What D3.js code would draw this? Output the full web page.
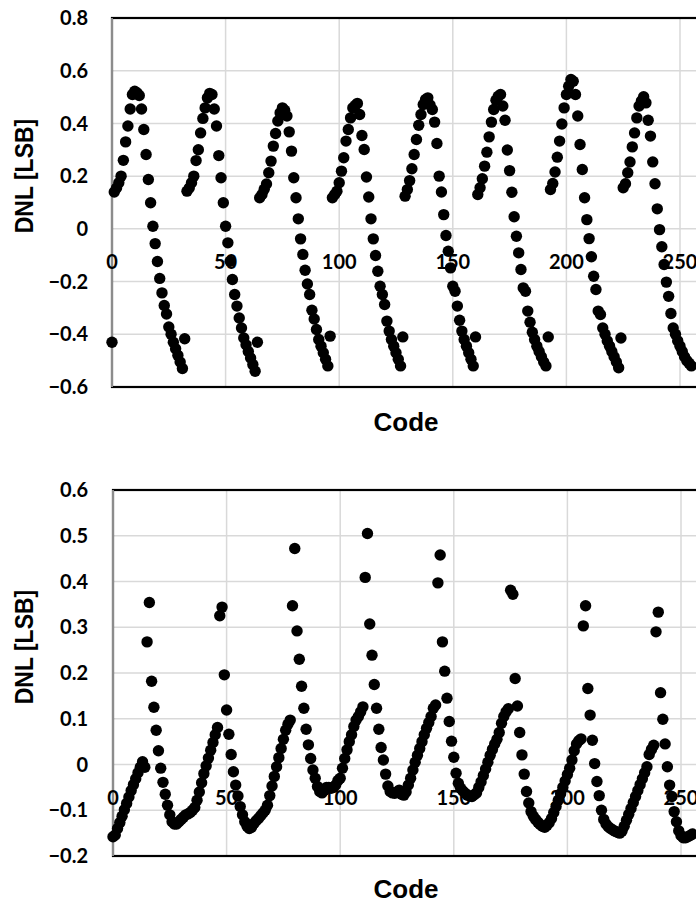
<!DOCTYPE html>
<html>
<head>
<meta charset="utf-8">
<script src="https://cdn.jsdelivr.net/npm/d3@7"></script>
<style>
  html, body { margin: 0; padding: 0; background: #fff; }
  svg { display: block; }
  .grid line { stroke: #d9d9d9; stroke-width: 1.5; }
  .tick-label { font-family: Lato, "Open Sans", sans-serif; font-weight: 700; font-size: 20px; fill: #000; }
  .axis-title { font-family: "Liberation Sans", Arial, sans-serif; font-weight: 700; fill: #000; }
  .dot { fill: #000; }
</style>
</head>
<body>
<svg id="chart" width="696" height="904"></svg>
<script>
// DNL of the first converter, one row per 16 codes (codes 0..255)
const dnlTop = [
  -0.43, 0.14, 0.155, 0.175, 0.20, 0.26, 0.33, 0.39, 0.455, 0.51, 0.522, 0.516, 0.506, 0.455, 0.377, 0.282,
  0.187, 0.099, 0.01, -0.056, -0.124, -0.188, -0.243, -0.291, -0.323, -0.372, -0.40, -0.43, -0.455, -0.48, -0.505, -0.53,
  -0.417, 0.143, 0.155, 0.175, 0.20, 0.259, 0.30, 0.364, 0.419, 0.459, 0.497, 0.514, 0.51, 0.455, 0.39, 0.278,
  0.194, 0.099, 0.01, -0.053, -0.123, -0.192, -0.249, -0.293, -0.338, -0.376, -0.414, -0.44, -0.465, -0.49, -0.515, -0.54,
  -0.43, 0.118, 0.13, 0.15, 0.17, 0.213, 0.257, 0.314, 0.362, 0.409, 0.44, 0.459, 0.45, 0.428, 0.368, 0.295,
  0.194, 0.118, 0.038, -0.038, -0.097, -0.157, -0.209, -0.249, -0.309, -0.342, -0.382, -0.42, -0.445, -0.47, -0.495, -0.52,
  -0.407, 0.118, 0.13, 0.143, 0.175, 0.219, 0.27, 0.333, 0.377, 0.421, 0.459, 0.468, 0.476, 0.434, 0.354, 0.301,
  0.197, 0.121, 0.038, -0.038, -0.101, -0.161, -0.218, -0.249, -0.287, -0.35, -0.388, -0.42, -0.445, -0.47, -0.495, -0.52,
  -0.41, 0.124, 0.149, 0.183, 0.228, 0.282, 0.339, 0.393, 0.434, 0.472, 0.491, 0.497, 0.47, 0.453, 0.405, 0.324,
  0.2, 0.14, 0.054, -0.025, -0.085, -0.148, -0.218, -0.237, -0.293, -0.347, -0.388, -0.42, -0.445, -0.47, -0.495, -0.52,
  -0.41, 0.13, 0.156, 0.19, 0.238, 0.291, 0.349, 0.405, 0.453, 0.488, 0.503, 0.51, 0.466, 0.412, 0.299, 0.221,
  0.139, 0.046, -0.028, -0.091, -0.154, -0.224, -0.237, -0.312, -0.354, -0.392, -0.42, -0.445, -0.465, -0.485, -0.505, -0.52,
  -0.41, 0.149, 0.172, 0.216, 0.272, 0.333, 0.398, 0.459, 0.51, 0.541, 0.567, 0.56, 0.51, 0.428, 0.32, 0.225,
  0.118, 0.035, -0.037, -0.106, -0.18, -0.23, -0.312, -0.325, -0.376, -0.40, -0.425, -0.445, -0.465, -0.485, -0.505, -0.527,
  -0.414, 0.156, 0.171, 0.213, 0.254, 0.311, 0.364, 0.421, 0.466, 0.485, 0.501, 0.478, 0.412, 0.352, 0.254, 0.171,
  0.076, -0.003, -0.068, -0.135, -0.202, -0.256, -0.321, -0.376, -0.40, -0.425, -0.445, -0.465, -0.485, -0.50, -0.51, -0.52
];

// DNL of the second converter (codes 0..255)
const dnlBottom = [
  -0.158, -0.154, -0.14, -0.127, -0.113, -0.099, -0.085, -0.071, -0.057, -0.044, -0.031, -0.018, -0.006, 0.006, -0.006, 0.268,
  0.354, 0.182, 0.125, 0.075, 0.03, -0.008, -0.039, -0.065, -0.089, -0.11, -0.125, -0.13, -0.13, -0.125, -0.12, -0.115,
  -0.11, -0.108, -0.105, -0.1, -0.094, -0.078, -0.06, -0.04, -0.02, -0.003, 0.014, 0.031, 0.048, 0.065, 0.081, 0.325,
  0.344, 0.196, 0.119, 0.066, 0.022, -0.016, -0.045, -0.069, -0.092, -0.11, -0.125, -0.135, -0.14, -0.137, -0.129, -0.123,
  -0.118, -0.112, -0.106, -0.1, -0.089, -0.068, -0.047, -0.026, -0.005, 0.015, 0.035, 0.055, 0.075, 0.088, 0.097, 0.347,
  0.472, 0.292, 0.23, 0.171, 0.123, 0.077, 0.043, 0.013, -0.012, -0.03, -0.048, -0.059, -0.062, -0.056, -0.05, -0.05,
  -0.052, -0.05, -0.045, -0.035, -0.03, -0.008, 0.013, 0.032, 0.05, 0.065, 0.083, 0.097, 0.105, 0.115, 0.126, 0.409,
  0.505, 0.307, 0.239, 0.175, 0.123, 0.077, 0.037, 0.01, -0.021, -0.047, -0.059, -0.062, -0.063, -0.06, -0.056, -0.065,
  -0.067, -0.06, -0.045, -0.03, -0.012, 0.005, 0.02, 0.035, 0.05, 0.065, 0.079, 0.092, 0.105, 0.123, 0.13, 0.397,
  0.458, 0.268, 0.204, 0.145, 0.094, 0.051, 0.016, -0.019, -0.041, -0.052, -0.058, -0.063, -0.067, -0.069, -0.07, -0.066,
  -0.062, -0.05, -0.038, -0.024, -0.01, 0.005, 0.02, 0.033, 0.045, 0.055, 0.07, 0.09, 0.105, 0.115, 0.122, 0.381,
  0.372, 0.188, 0.128, 0.07, 0.021, -0.021, -0.059, -0.084, -0.103, -0.113, -0.12, -0.126, -0.131, -0.135, -0.137, -0.133,
  -0.127, -0.118, -0.105, -0.092, -0.078, -0.064, -0.05, -0.036, -0.022, -0.008, 0.01, 0.03, 0.045, 0.052, 0.056, 0.303,
  0.347, 0.166, 0.108, 0.053, 0.002, -0.037, -0.068, -0.1, -0.12, -0.13, -0.136, -0.14, -0.143, -0.146, -0.148, -0.15,
  -0.146, -0.135, -0.122, -0.109, -0.096, -0.083, -0.07, -0.057, -0.044, -0.031, -0.018, -0.005, 0.022, 0.033, 0.042, 0.29,
  0.333, 0.157, 0.099, 0.045, -0.005, -0.045, -0.07, -0.103, -0.125, -0.145, -0.155, -0.16, -0.16, -0.158, -0.155, -0.152
];

// Axis ticks
const codeTicks = [0, 50, 100, 150, 200, 250, 300];
const topTicks = [-0.6, -0.4, -0.2, 0, 0.2, 0.4, 0.6, 0.8];
const bottomTicks = [-0.2, -0.1, 0, 0.1, 0.2, 0.3, 0.4, 0.5, 0.6];

const CODE_MAX = 300;
const PX_PER_CODE = 2.272;

const svg = d3.select('#chart');

/**
 * Draw one DNL panel (gridlines, frame, labels, markers)
 */
const drawPanel = p => {
    const x = d3.scaleLinear()
        .domain([0, CODE_MAX])
        .range([p.left, p.left + CODE_MAX * PX_PER_CODE]);
    const y = d3.scaleLinear()
        .domain(d3.extent(p.ticks))
        .range([p.bottom, p.top]);

    const g = svg.append('g');

    // Horizontal gridlines
    g.append('g').attr('class', 'grid')
        .selectAll('line')
        .data(p.ticks)
        .join('line')
        .attr('x1', x(0))
        .attr('x2', x(CODE_MAX))
        .attr('y1', d => y(d))
        .attr('y2', d => y(d));

    // Vertical gridlines
    g.append('g').attr('class', 'grid')
        .selectAll('line')
        .data(codeTicks.filter(d => d > 0))
        .join('line')
        .attr('x1', d => x(d))
        .attr('x2', d => x(d))
        .attr('y1', p.top)
        .attr('y2', p.bottom);

    // Plot frame
    g.append('rect')
        .attr('x', x(0))
        .attr('y', p.top)
        .attr('width', x(CODE_MAX) - x(0))
        .attr('height', p.bottom - p.top)
        .attr('fill', 'none')
        .attr('stroke', '#000')
        .attr('stroke-width', 2.2);

    // Value axis line
    g.append('line')
        .attr('x1', x(0)).attr('x2', x(0))
        .attr('y1', p.top).attr('y2', p.bottom)
        .attr('stroke', '#8c8c8c')
        .attr('stroke-width', 2);

    // Value tick labels
    g.selectAll('.y-label')
        .data(p.ticks)
        .join('text')
        .attr('class', 'tick-label y-label')
        .attr('x', 88)
        .attr('y', d => y(d))
        .attr('dy', '0.36em')
        .attr('text-anchor', 'end')
        .text(d => d3.format('')(+d.toFixed(1)));

    // Code tick labels, sitting under the zero line (the last one runs off the edge, as in the original)
    g.selectAll('.x-label')
        .data(codeTicks)
        .join('text')
        .attr('class', 'tick-label x-label')
        .attr('x', d => x(d))
        .attr('y', y(0) + 40)
        .attr('text-anchor', 'middle')
        .text(d => d);

    // Markers
    g.append('g')
        .selectAll('circle')
        .data(p.values)
        .join('circle')
        .attr('class', 'dot')
        .attr('cx', (d, i) => x(i))
        .attr('cy', d => y(d))
        .attr('r', 5.7);

    // Axis titles
    g.append('text')
        .attr('class', 'axis-title')
        .attr('transform', `translate(33, ${p.titleMid}) rotate(-90) scale(0.92, 1)`)
        .attr('text-anchor', 'middle')
        .style('font-size', '25px')
        .text('DNL [LSB]');

    g.append('text')
        .attr('class', 'axis-title')
        .attr('x', 406)
        .attr('y', p.codeBaseline)
        .attr('text-anchor', 'middle')
        .style('font-size', '26px')
        .text('Code');
};

drawPanel({
    values: dnlTop,
    ticks: topTicks,
    left: 112,
    top: 18,
    bottom: 387,
    titleMid: 176,
    codeBaseline: 431
});

drawPanel({
    values: dnlBottom,
    ticks: bottomTicks,
    left: 113,
    top: 490,
    bottom: 856,
    titleMid: 647,
    codeBaseline: 898
});
</script>
</body>
</html>
